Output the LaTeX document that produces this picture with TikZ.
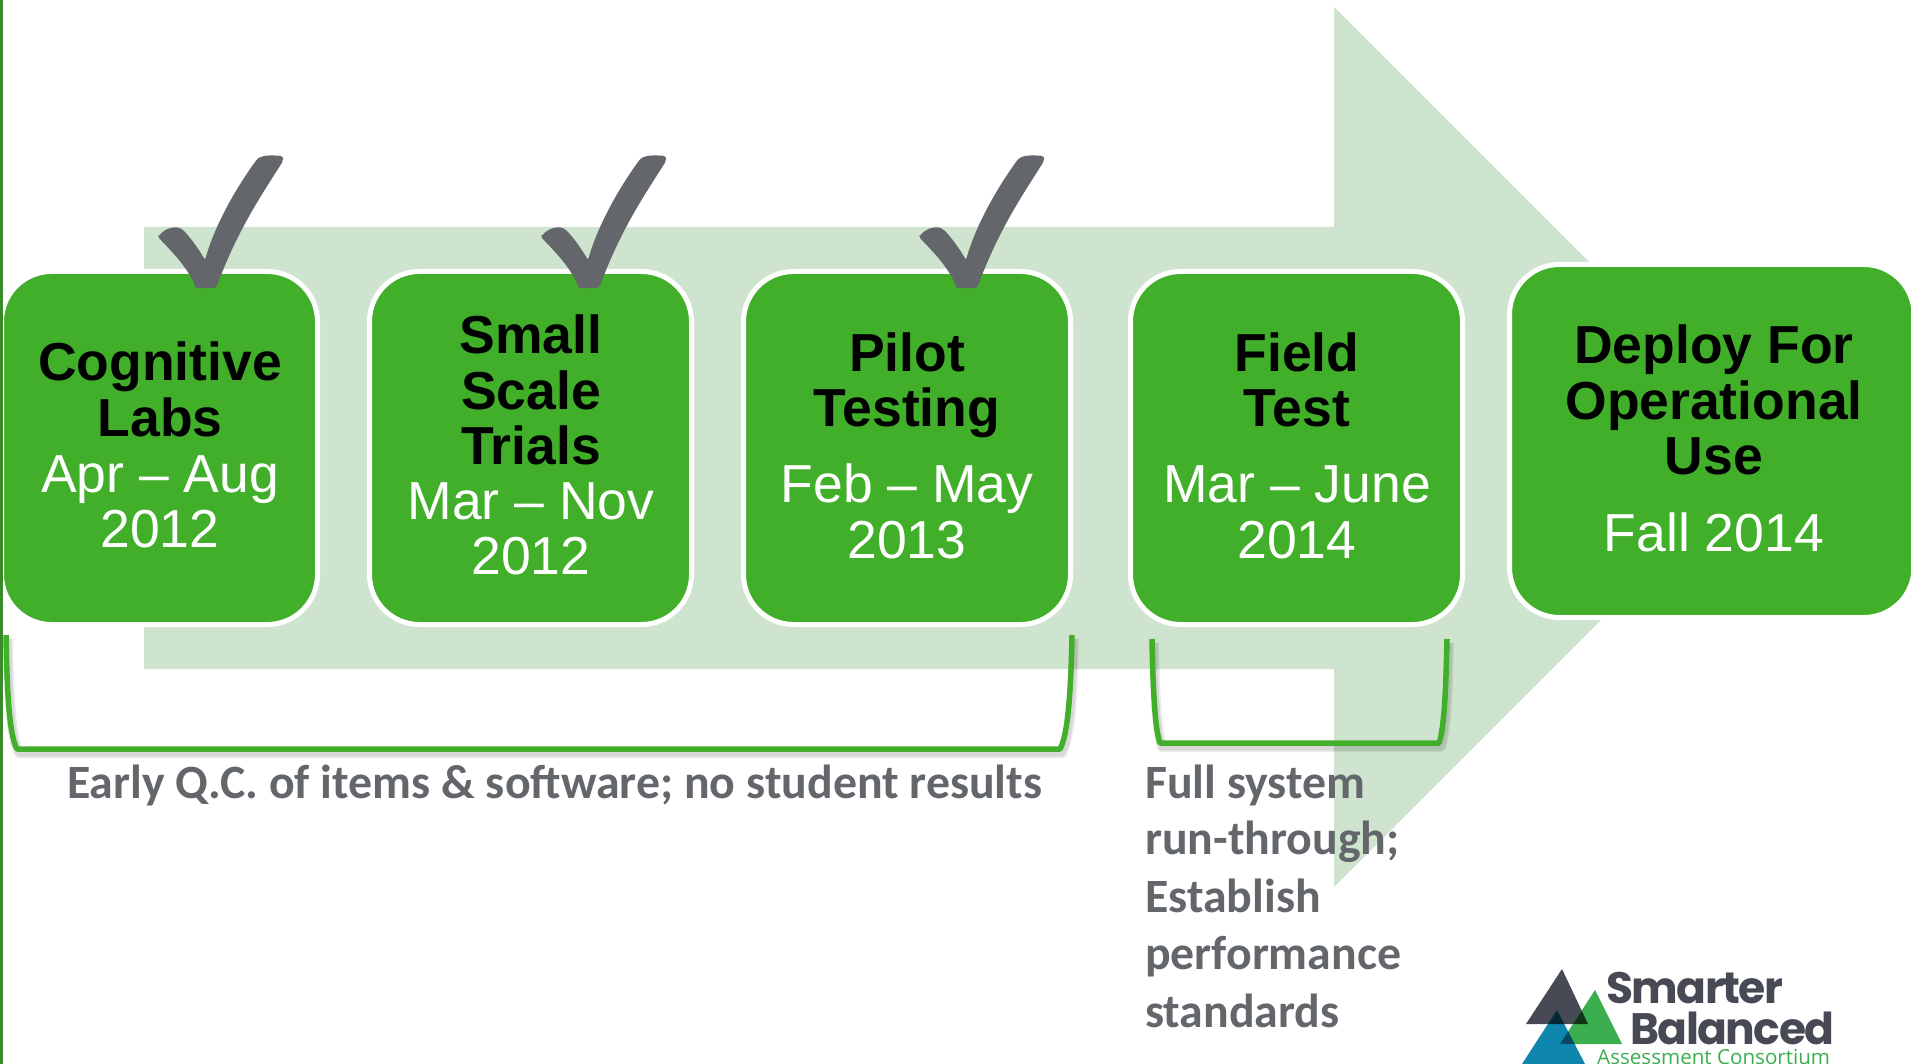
\documentclass[tikz,border=0pt]{standalone}
\usepackage{fontspec}
\setmainfont{Liberation Sans}
\newfontfamily\grayfont{Carlito}
\newfontfamily\logofont{Open Sans}
\newfontfamily\logoheavy[LetterSpace=-3.5]{Poppins}
\definecolor{boxgreen}{HTML}{42AF2B}
\definecolor{arrowgreen}{HTML}{CFE4CE}
\definecolor{edgegreen}{HTML}{3A8A2A}
\definecolor{checkgray}{HTML}{63666A}
\definecolor{logodark}{HTML}{474A54}
\definecolor{logogreen}{HTML}{3BAF4F}
\definecolor{logoblue}{HTML}{0F86AE}
\tikzset{
  stagebox/.style={rounded corners=50,fill=boxgreen,draw=white,line width=5},
  head/.style={anchor=base,inner sep=0,font=\bfseries\fontsize{53.5}{55}\selectfont,text=black},
  sub/.style={anchor=base,inner sep=0,font=\fontsize{53.5}{55}\selectfont,text=white},
  gray text/.style={font=\grayfont\bfseries\fontsize{47.8}{58}\selectfont,text=checkgray,inner sep=0,anchor=base west},
  bracket line/.style={draw=boxgreen,line width=5.5,line cap=butt,line join=round},
  bracket shadow/.style={draw=black,opacity=.08,line join=round},
  check/.pic={\fill[checkgray,rounded corners=2]
    (158,237) .. controls (165,228) and (175,226) .. (182,229)
    .. controls (190,237) and (198,248) .. (205,260)
    .. controls (215,225) and (235,190) .. (255,162)
    .. controls (260,155) and (270,155) .. (283,156)
    -- (283,161)
    .. controls (265,190) and (240,225) .. (218,283)
    -- (217,286) .. controls (215,288) and (195,289) .. (195,285)
    .. controls (185,265) and (175,255) .. (158,237) -- cycle;}
}
\newcommand{\bracketA}{(6,635) .. controls (7,690) and (9,735) .. (17,749) -- (1060,749) .. controls (1068,735) and (1071,690) .. (1072,635)}
\newcommand{\bracketB}{(1152,639) .. controls (1153,690) and (1155,730) .. (1160,743) -- (1439,743) .. controls (1444,730) and (1446,690) .. (1447,639)}
\begin{document}
\begin{tikzpicture}[x=1pt,y=-1pt]
\useasboundingbox (0,0) rectangle (1911,1064);
\fill[white] (0,0) rectangle (1911,1064);
\coordinate (tl) at (144,227);
\coordinate (ht) at (1334,7);
\coordinate (tip) at (1774,447);
\coordinate (hb) at (1334,887);
\coordinate (bl) at (144,669);
\fill[arrowgreen] (tl) -- (1334,227) -- (ht) -- (tip) -- (hb) -- (1334,669) -- (bl) -- cycle;
% boxes
\path[stagebox] (1.5,271.5) rectangle (317.5,624.5);
\path[stagebox] (369.5,271.5) rectangle (691.5,624.5);
\path[stagebox] (743.5,271.5) rectangle (1070.5,624.5);
\path[stagebox] (1130.5,271.5) rectangle (1462.5,624.5);
\path[stagebox] (1509.5,264.5) rectangle (1914,617.5);
\fill[edgegreen] (0,0) rectangle (3,1064);
\pic at (0,0) {check};
\pic at (383,0) {check};
\pic at (761,0) {check};
% labels
\node[head] (a1) at (160,381) {Cognitive};
\node[head] (a2) at (160,436) {Labs};
\node[sub] (a3) at (160,492) {Apr -- Aug};
\node[sub] (a4) at (160,547) {2012};
\node[head] (b1) at (531,354) {Small};
\node[head] (b2) at (531,409) {Scale};
\node[head] (b3) at (531,464) {Trials};
\node[sub] (b4) at (531,519) {Mar -- Nov};
\node[sub] (b5) at (531,574) {2012};
\node[head] (c1) at (907,371) {Pilot};
\node[head] (c2) at (907,426) {Testing};
\node[sub] (c3) at (907,502) {Feb -- May};
\node[sub] (c4) at (907,558) {2013};
\node[head] (d1) at (1297,371) {Field};
\node[head] (d2) at (1297,426) {Test};
\node[sub] (d3) at (1297,502) {Mar -- June};
\node[sub] (d4) at (1297,558) {2014};
\node[head] (e1) at (1714,363) {Deploy For};
\node[head] (e2) at (1714,419) {Operational};
\node[head] (e3) at (1714,474) {Use};
\node[sub] (e4) at (1714,551) {Fall 2014};
% brackets
\begin{scope}[shift={(2,4)}]
\draw[bracket shadow,line width=10] \bracketA;
\draw[bracket shadow,line width=7] \bracketA;
\draw[bracket shadow,line width=10] \bracketB;
\draw[bracket shadow,line width=7] \bracketB;
\end{scope}
\draw[bracket line] \bracketA;
\draw[bracket line] \bracketB;
% gray text
\node[gray text] (n1) at (67,798) {Early Q.C. of items \& software; no student results};
\node[gray text] (n2) at (1145,798) {Full system};
\node[gray text] (n3) at (1145,854) {run-through;};
\node[gray text] (n4) at (1145,912) {Establish};
\node[gray text] (n5) at (1145,969) {performance};
\node[gray text] (n6) at (1145,1027) {standards};
% logo
\begin{scope}
\clip (1500,940) rectangle (1911,1064);
\fill[logodark] (1562,969) -- (1526,1024) -- (1588,1024) -- cycle;
\fill[logogreen] (1595,990) -- (1560,1044) -- (1622,1044) -- cycle;
\fill[logoblue] (1557,1010) -- (1522,1064) -- (1585,1064) -- cycle;
\begin{scope}
\clip (1562,969) -- (1526,1024) -- (1588,1024) -- cycle;
\fill[black!70!logogreen] (1595,990) -- (1560,1044) -- (1622,1044) -- cycle;
\fill[black!70!logoblue] (1557,1010) -- (1522,1064) -- (1585,1064) -- cycle;
\end{scope}
\begin{scope}
\clip (1595,990) -- (1560,1044) -- (1622,1044) -- cycle;
\fill[black!45!logoblue] (1557,1010) -- (1522,1064) -- (1585,1064) -- cycle;
\end{scope}
\end{scope}
\node[anchor=base west,inner sep=0,text=logodark,font=\logoheavy\bfseries\fontsize{44}{44}\selectfont] (s) at (1606,1003) {Smarter};
\node[anchor=base west,inner sep=0,text=logodark,font=\logoheavy\bfseries\fontsize{44}{44}\selectfont] (b) at (1630,1044) {Balanced};
\node[anchor=base west,inner sep=0,text=logogreen,font=\logofont\fontsize{20.6}{20.6}\selectfont] (c) at (1597,1064) {Assessment Consortium};
\end{tikzpicture}
\end{document}
